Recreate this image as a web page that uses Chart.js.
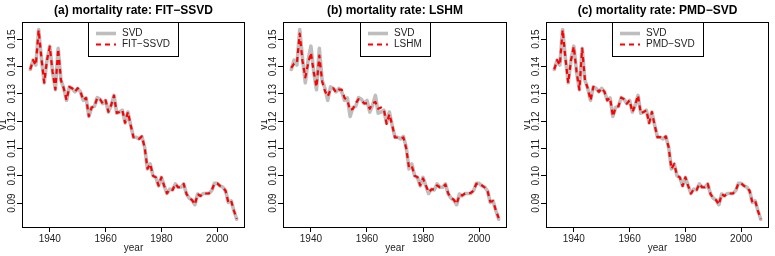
<!DOCTYPE html>
<html>
<head>
<meta charset="utf-8">
<script src="https://cdn.jsdelivr.net/npm/chart.js@4.4.1/dist/chart.umd.min.js"></script>
<style>
  body { margin: 0; background: #fff; }
  #wrap { position: relative; width: 775px; height: 256px; overflow: hidden; }
  canvas { position: absolute; top: 0; }
</style>
</head>
<body>
<div id="wrap">
  <canvas id="panelA" width="258" height="256" style="left:0px"></canvas>
  <canvas id="panelB" width="259" height="256" style="left:261px"></canvas>
  <canvas id="panelC" width="251" height="256" style="left:524px"></canvas>
</div>
<script>
const years = [];
for (let y = 1933; y <= 2007; y++) years.push(y);

const svd = [
  0.1389, 0.1423, 0.1405, 0.1535, 0.1430, 0.1340, 0.1423, 0.1474, 0.1380, 0.1315,
  0.1466, 0.1350, 0.1320, 0.1276, 0.1325, 0.1320, 0.1307, 0.1320, 0.1307, 0.1276,
  0.1285, 0.1217, 0.1250, 0.1254, 0.1286, 0.1280, 0.1264, 0.1276, 0.1233, 0.1258,
  0.1294, 0.1229, 0.1233, 0.1240, 0.1193, 0.1233, 0.1184, 0.1141, 0.1141, 0.1135,
  0.1144, 0.1104, 0.1025, 0.1043, 0.1000, 0.0994, 0.0963, 0.0994, 0.0963, 0.0935,
  0.0951, 0.0948, 0.0970, 0.0958, 0.0958, 0.0970, 0.0933, 0.0918, 0.0911, 0.0894,
  0.0933, 0.0926, 0.0935, 0.0935, 0.0935, 0.0945, 0.0972, 0.0972, 0.0963, 0.0958,
  0.0945, 0.0902, 0.0908, 0.0872, 0.0841
];

const fitSsvd = [
  0.1389, 0.1423, 0.1405, 0.1533, 0.1430, 0.1341, 0.1423, 0.1472, 0.1380, 0.1316,
  0.1464, 0.1350, 0.1320, 0.1277, 0.1325, 0.1320, 0.1307, 0.1320, 0.1307, 0.1277,
  0.1285, 0.1218, 0.1250, 0.1254, 0.1285, 0.1280, 0.1264, 0.1276, 0.1234, 0.1258,
  0.1293, 0.1230, 0.1233, 0.1240, 0.1194, 0.1233, 0.1185, 0.1141, 0.1141, 0.1135,
  0.1144, 0.1104, 0.1026, 0.1043, 0.1000, 0.0994, 0.0964, 0.0994, 0.0963, 0.0936,
  0.0951, 0.0948, 0.0970, 0.0958, 0.0958, 0.0970, 0.0933, 0.0918, 0.0911, 0.0895,
  0.0933, 0.0926, 0.0935, 0.0935, 0.0935, 0.0945, 0.0972, 0.0972, 0.0963, 0.0958,
  0.0945, 0.0902, 0.0908, 0.0872, 0.0842
];

const lshm = [
  0.1395, 0.1410, 0.1412, 0.1520, 0.1420, 0.1360, 0.1410, 0.1450, 0.1380, 0.1325,
  0.1440, 0.1345, 0.1310, 0.1290, 0.1315, 0.1320, 0.1305, 0.1315, 0.1315, 0.1285,
  0.1275, 0.1240, 0.1245, 0.1265, 0.1280, 0.1275, 0.1265, 0.1265, 0.1245, 0.1265,
  0.1270, 0.1245, 0.1250, 0.1245, 0.1190, 0.1225, 0.1185, 0.1140, 0.1140, 0.1137,
  0.1140, 0.1100, 0.1030, 0.1035, 0.1000, 0.0995, 0.0965, 0.0990, 0.0965, 0.0940,
  0.0950, 0.0950, 0.0965, 0.0958, 0.0958, 0.0968, 0.0935, 0.0920, 0.0912, 0.0897,
  0.0930, 0.0928, 0.0935, 0.0936, 0.0937, 0.0945, 0.0970, 0.0972, 0.0965, 0.0957,
  0.0945, 0.0905, 0.0907, 0.0873, 0.0845
];

const pmdSvd = [
  0.1389, 0.1423, 0.1405, 0.1534, 0.1430, 0.1340, 0.1423, 0.1473, 0.1380, 0.1315,
  0.1465, 0.1350, 0.1320, 0.1276, 0.1325, 0.1320, 0.1307, 0.1320, 0.1307, 0.1276,
  0.1285, 0.1217, 0.1250, 0.1254, 0.1286, 0.1280, 0.1264, 0.1276, 0.1233, 0.1258,
  0.1294, 0.1229, 0.1233, 0.1240, 0.1193, 0.1233, 0.1184, 0.1141, 0.1141, 0.1135,
  0.1144, 0.1104, 0.1025, 0.1043, 0.1000, 0.0994, 0.0963, 0.0994, 0.0963, 0.0935,
  0.0951, 0.0948, 0.0970, 0.0958, 0.0958, 0.0970, 0.0933, 0.0918, 0.0911, 0.0894,
  0.0933, 0.0926, 0.0935, 0.0935, 0.0935, 0.0945, 0.0972, 0.0972, 0.0963, 0.0958,
  0.0945, 0.0902, 0.0908, 0.0872, 0.0841
];

const xTicks = [1940, 1960, 1980, 2000];
const yTicks = [0.09, 0.10, 0.11, 0.12, 0.13, 0.14, 0.15];

const FONT = "'Liberation Sans', Arial, Helvetica, sans-serif";

// box, title, rotated y labels and legend, drawn R-style
const rPlotDecor = {
  id: 'rPlotDecor',
  afterDraw(chart, args, opts) {
    const ctx = chart.ctx;
    const a = chart.chartArea;
    const ys = chart.scales.y;
    ctx.save();

    // frame
    ctx.strokeStyle = '#000';
    ctx.lineWidth = 1;
    ctx.strokeRect(a.left + 0.5, a.top + 0.5, a.right - a.left - 1, a.bottom - a.top);

    // title
    ctx.fillStyle = '#000';
    ctx.font = 'bold 12px ' + FONT;
    ctx.textAlign = 'center';
    ctx.textBaseline = 'middle';
    ctx.fillText(opts.title, (a.left + a.right) / 2, 11);

    // y tick labels (vertical, reading upward)
    ctx.font = '10px ' + FONT;
    ctx.fillStyle = '#222';
    ctx.textBaseline = 'alphabetic';
    yTicks.forEach(v => {
      const py = ys.getPixelForValue(v);
      ctx.save();
      ctx.translate(a.left - 7, py);
      ctx.rotate(-Math.PI / 2);
      ctx.fillText(v.toFixed(2), 0, 0);
      ctx.restore();
    });

    // y axis title
    ctx.save();
    ctx.translate(a.left - 16, (a.top + a.bottom) / 2);
    ctx.rotate(-Math.PI / 2);
    ctx.fillText('v1', 0, 0);
    ctx.restore();

    // legend
    ctx.textBaseline = 'middle';
    const sets = chart.data.datasets.slice().reverse();
    const tw = Math.max(...sets.map(d => ctx.measureText(d.label).width));
    const lw = 8 + 20 + 6 + tw + 8;
    const lh = 34;
    const lx = Math.round((a.left + a.right) / 2 - lw / 2);
    const ly = a.top;
    ctx.fillStyle = '#fff';
    ctx.fillRect(lx, ly, lw, lh);
    ctx.strokeStyle = '#000';
    ctx.lineWidth = 1;
    ctx.strokeRect(lx + 0.5, ly + 0.5, Math.round(lw), lh);
    const rows = [ly + 11.5, ly + 22.5];
    sets.forEach((d, i) => {
      ctx.strokeStyle = d.borderColor;
      ctx.lineWidth = d.borderWidth;
      ctx.setLineDash(d.borderDash || []);
      ctx.beginPath();
      ctx.moveTo(lx + 8, rows[i]);
      ctx.lineTo(lx + 28, rows[i]);
      ctx.stroke();
      ctx.setLineDash([]);
      ctx.fillStyle = '#222';
      ctx.textAlign = 'left';
      ctx.fillText(d.label, lx + 34, rows[i]);
    });

    ctx.restore();
  }
};

function makePanel(id, title, name, values, padRight) {
  new Chart(document.getElementById(id), {
    type: 'line',
    data: {
      datasets: [
        {
          label: name,
          data: years.map((y, i) => ({ x: y, y: values[i] })),
          borderColor: '#FF0000',
          borderWidth: 2.2,
          borderDash: [5, 4],
          borderJoinStyle: 'round',
          pointRadius: 0,
          tension: 0,
          order: 0
        },
        {
          label: 'SVD',
          data: years.map((y, i) => ({ x: y, y: svd[i] })),
          borderColor: '#BEBEBE',
          borderWidth: 3.6,
          borderJoinStyle: 'round',
          borderCapStyle: 'round',
          pointRadius: 0,
          tension: 0,
          order: 1
        }
      ]
    },
    options: {
      responsive: false,
      animation: false,
      devicePixelRatio: 1,
      layout: { padding: { top: 22, right: padRight, left: 0, bottom: 0 } },
      plugins: {
        legend: { display: false },
        tooltip: { enabled: false },
        rPlotDecor: { title: title }
      },
      scales: {
        x: {
          type: 'linear',
          min: 1930.04,
          max: 2009.96,
          afterBuildTicks: s => { s.ticks = xTicks.map(v => ({ value: v })); },
          afterFit: s => { s.height = 29; },
          ticks: {
            autoSkip: false, maxRotation: 0, padding: 1,
            color: '#222', font: { family: FONT, size: 10 },
            callback: v => String(v)
          },
          grid: { drawOnChartArea: false, drawTicks: true, tickLength: 5, color: '#000' },
          border: { display: false },
          title: {
            display: true, text: 'year', color: '#222',
            font: { family: FONT, size: 10 }, padding: { top: 0, bottom: 2 }
          }
        },
        y: {
          min: 0.08125,
          max: 0.15625,
          afterBuildTicks: s => { s.ticks = yTicks.map(v => ({ value: v })); },
          afterFit: s => { s.width = 22; },
          ticks: { display: false },
          grid: { drawOnChartArea: false, drawTicks: true, tickLength: 5, color: '#000' },
          border: { display: false }
        }
      }
    },
    plugins: [rPlotDecor]
  });
}

makePanel('panelA', '(a) mortality rate: FIT\u2212SSVD', 'FIT\u2212SSVD', fitSsvd, 13);
makePanel('panelB', '(b) mortality rate: LSHM', 'LSHM', lshm, 13);
makePanel('panelC', '(c) mortality rate: PMD\u2212SVD', 'PMD\u2212SVD', pmdSvd, 6);
</script>
</body>
</html>
